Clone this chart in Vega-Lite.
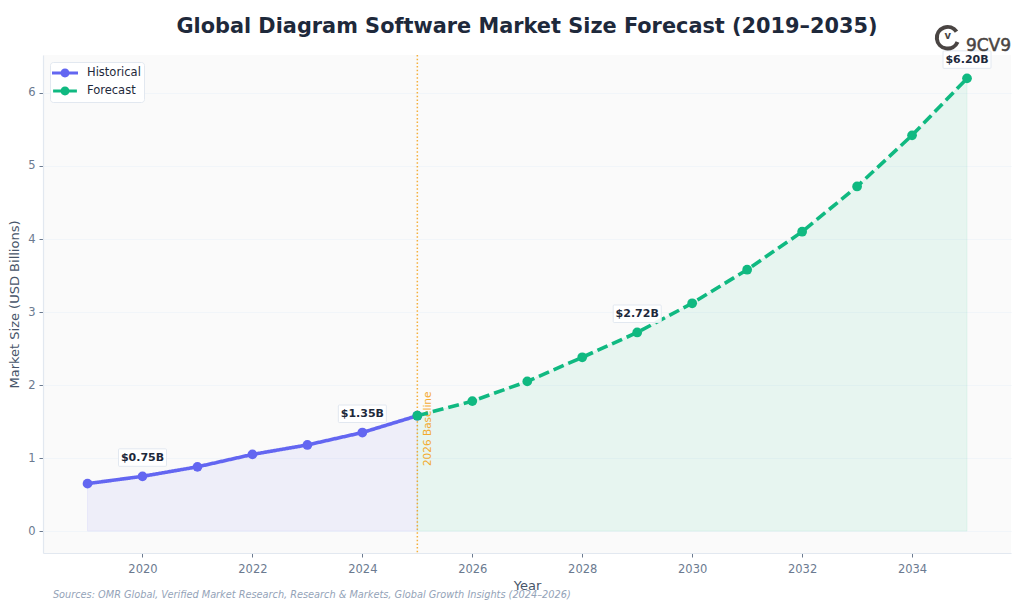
{
  "$schema": "https://vega.github.io/schema/vega-lite/v6.json",
  "width": 968,
  "height": 498,
  "autosize": "none",
  "padding": {"left": 43, "top": 55, "right": 13, "bottom": 57},
  "background": "white",
  "title": {
    "text": "Global Diagram Software Market Size Forecast (2019–2035)",
    "font": "DejaVu Sans",
    "fontSize": 20.85,
    "fontWeight": "bold",
    "color": "#1e293b",
    "anchor": "middle",
    "offset": 0,
    "dy": 19
  },
  "config": {
    "font": "DejaVu Sans",
    "view": {"fill": "#fafafa", "stroke": null}
  },
  "datasets": {
    "market": [
      {"year": 2019, "size": 0.65, "period": "Historical"},
      {"year": 2020, "size": 0.75, "period": "Historical"},
      {"year": 2021, "size": 0.88, "period": "Historical"},
      {"year": 2022, "size": 1.05, "period": "Historical"},
      {"year": 2023, "size": 1.18, "period": "Historical"},
      {"year": 2024, "size": 1.35, "period": "Historical"},
      {"year": 2025, "size": 1.58, "period": "Historical"},
      {"year": 2025, "size": 1.58, "period": "Forecast"},
      {"year": 2026, "size": 1.78, "period": "Forecast"},
      {"year": 2027, "size": 2.05, "period": "Forecast"},
      {"year": 2028, "size": 2.38, "period": "Forecast"},
      {"year": 2029, "size": 2.72, "period": "Forecast"},
      {"year": 2030, "size": 3.12, "period": "Forecast"},
      {"year": 2031, "size": 3.58, "period": "Forecast"},
      {"year": 2032, "size": 4.10, "period": "Forecast"},
      {"year": 2033, "size": 4.72, "period": "Forecast"},
      {"year": 2034, "size": 5.42, "period": "Forecast"},
      {"year": 2035, "size": 6.20, "period": "Forecast"}
    ],
    "callouts": [
      {"year": 2020, "size": 0.75, "label": "$0.75B"},
      {"year": 2024, "size": 1.35, "label": "$1.35B"},
      {"year": 2029, "size": 2.72, "label": "$2.72B"},
      {"year": 2035, "size": 6.20, "label": "$6.20B"}
    ]
  },
  "encoding": {
    "x": {
      "field": "year",
      "type": "quantitative",
      "title": "Year",
      "scale": {"domain": [2018.19, 2035.8], "nice": false, "zero": false},
      "axis": {
        "values": [2020, 2022, 2024, 2026, 2028, 2030, 2032, 2034],
        "format": "d",
        "grid": false,
        "domainColor": "#e2e8f0",
        "domainWidth": 1.2,
        "tickColor": "#6b7a90",
        "tickSize": 4,
        "tickWidth": 1,
        "labelColor": "#6b7a90",
        "labelFontSize": 11.5,
        "labelPadding": 6,
        "titleColor": "#475569",
        "titleFontSize": 13,
        "titleFontWeight": "normal",
        "titlePadding": 5
      }
    },
    "y": {
      "field": "size",
      "type": "quantitative",
      "title": "Market Size (USD Billions)",
      "scale": {"domain": [-0.3, 6.52], "nice": false, "zero": false},
      "axis": {
        "values": [0, 1, 2, 3, 4, 5, 6],
        "grid": true,
        "gridColor": "#f1f5f9",
        "gridWidth": 1,
        "domainColor": "#e2e8f0",
        "domainWidth": 1.2,
        "tickColor": "#6b7a90",
        "tickSize": 4,
        "tickWidth": 1,
        "labelColor": "#6b7a90",
        "labelFontSize": 11.5,
        "labelPadding": 4,
        "titleColor": "#475569",
        "titleFontSize": 13,
        "titleFontWeight": "normal",
        "titlePadding": 6
      }
    }
  },
  "layer": [
    {
      "data": {"name": "market"},
      "mark": {"type": "area", "fillOpacity": 0.08, "strokeOpacity": 0.08, "strokeWidth": 1},
      "encoding": {
        "y2": {"datum": 0},
        "color": {"field": "period", "type": "nominal", "legend": null, "scale": {"range": ["#10b981", "#6366f1"]}},
        "stroke": {"field": "period", "type": "nominal", "legend": null, "scale": {"range": ["#10b981", "#6366f1"]}}
      }
    },
    {
      "data": {"values": [{"year": 2025}]},
      "mark": {"type": "rule", "color": "#f59e0b", "strokeWidth": 1.5, "strokeDash": [1.5, 2.2], "opacity": 0.8},
      "encoding": {"y": {"value": 0}, "y2": {"value": 498}}
    },
    {
      "data": {"values": [{"year": 2025, "size": 0.89, "note": "2026 Baseline"}]},
      "mark": {"type": "text", "angle": 270, "align": "left", "baseline": "middle", "dy": 11, "fontSize": 10.5, "color": "#f59e0b", "opacity": 0.85},
      "encoding": {"text": {"field": "note"}}
    },
    {
      "data": {"name": "market"},
      "mark": {"type": "line", "strokeWidth": 3.6},
      "encoding": {
        "color": {"field": "period", "type": "nominal", "legend": null},
        "strokeDash": {"field": "period", "type": "nominal", "legend": null, "scale": {"range": [[11, 5], [1, 0]]}}
      }
    },
    {
      "data": {"name": "market"},
      "mark": {"type": "point", "filled": true, "size": 95, "opacity": 1},
      "encoding": {
        "color": {"field": "period", "type": "nominal", "legend": null}
      }
    },
    {
      "data": {"name": "callouts"},
      "mark": {"type": "point", "filled": true, "size": 400, "opacity": 1, "fill": "#ffffff", "fillOpacity": 0.9, "stroke": "#e2e8f0", "strokeWidth": 1, "shape": "M-2.3,-2.75H2.3Q2.4,-2.75,2.4,-2.65V-1.1Q2.4,-1,2.3,-1H-2.3Q-2.4,-1,-2.4,-1.1V-2.65Q-2.4,-2.75,-2.3,-2.75Z"}
    },
    {
      "data": {"name": "callouts"},
      "mark": {"type": "text", "dy": -18.5, "fontSize": 11, "fontWeight": "bold", "color": "#1e293b"},
      "encoding": {"text": {"field": "label"}}
    },
    {
      "data": {"name": "market"},
      "mark": {"type": "point", "filled": true, "size": 0},
      "encoding": {
        "fill": {
          "field": "period",
          "type": "nominal",
          "scale": {"domain": ["Historical", "Forecast"], "range": ["#6366f1", "#10b981"]}
        },
        "shape": {
          "field": "period",
          "type": "nominal",
          "scale": {
            "domain": ["Historical", "Forecast"],
            "range": [
              "M-1.857,-0.21H1.857V0.21H-1.857Z M-0.64,0A0.64,0.64,0,1,1,0.64,0A0.64,0.64,0,1,1,-0.64,0Z",
              "M-1.7,-0.21H1.7V0.21H-1.7Z M-0.64,0A0.64,0.64,0,1,1,0.64,0A0.64,0.64,0,1,1,-0.64,0Z"
            ]
          },
          "legend": {
            "orient": "none",
            "legendX": 7,
            "legendY": 7,
            "title": null,
            "fillColor": "#ffffff",
            "strokeColor": "#e2e8f0",
            "cornerRadius": 3,
            "padding": 3,
            "symbolSize": 196,
            "symbolOpacity": 1,
            "symbolOffset": 4,
            "labelOffset": 14,
            "labelFontSize": 11.5,
            "labelColor": "#1e293b",
            "rowPadding": 2
          }
        }
      }
    },
    {
      "data": {"values": [{"year": 2034.65, "size": 6.755}]},
      "mark": {"type": "point", "filled": false, "size": 420, "stroke": "#4a4543", "strokeWidth": 4, "opacity": 1, "shape": "M0.95,0.4A1.05,1.05,0,1,1,0.85,-0.6"}
    },
    {
      "data": {"values": [{"year": 2034.65, "size": 6.785, "glyph": "v"}]},
      "mark": {"type": "text", "fontSize": 10, "fontWeight": "bold", "color": "#4a4543"},
      "encoding": {"text": {"field": "glyph"}}
    },
    {
      "data": {"values": [{"year": 2034.98, "size": 6.645, "brand": "9CV9"}]},
      "mark": {"type": "text", "align": "left", "fontSize": 17, "color": "#4a4543", "stroke": "#4a4543", "strokeWidth": 0.5},
      "encoding": {"text": {"field": "brand"}}
    },
    {
      "data": {"values": [{"year": 2018.37, "size": -0.87, "source": "Sources: OMR Global, Verified Market Research, Research & Markets, Global Growth Insights (2024–2026)"}]},
      "mark": {"type": "text", "align": "left", "fontSize": 9.75, "fontStyle": "italic", "color": "#94a3b8"},
      "encoding": {"text": {"field": "source"}}
    }
  ],
  "resolve": {"scale": {"color": "shared"}}
}
